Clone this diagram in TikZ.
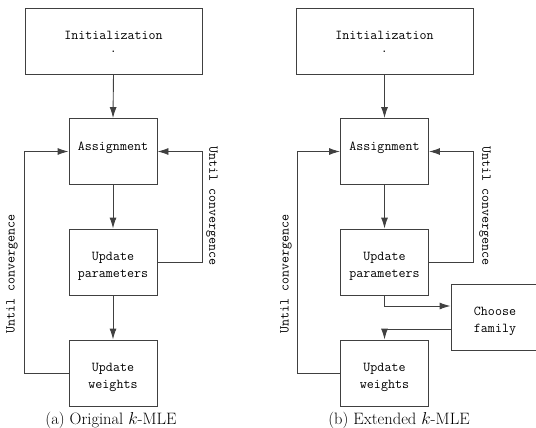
\documentclass[tikz,border=0pt]{standalone}
\usetikzlibrary{arrows.meta}
\newcommand{\boxtext}[2]{\parbox[c][66pt][t]{#1}{\centering\rule{0pt}{31.5pt}#2}}
\begin{document}
\begin{tikzpicture}[x=1pt,y=-1pt,
  box/.style={draw=black!75, line width=0.9pt, inner sep=0pt, font=\fontsize{13.6}{17}\selectfont\ttfamily},
  conn/.style={draw=black!75, line width=0.9pt},
  arr/.style={conn, -{Latex[length=11pt,width=7pt]}},
  lbl/.style={font=\fontsize{13.6}{17}\selectfont\ttfamily, inner sep=0pt},
  captext/.style={font=\fontsize{16.5}{20}\selectfont, inner sep=0pt}]
\useasboundingbox (0,0) rectangle (536,428);
% left diagram
\node[box] (iL) at (113.5,41) {\boxtext{177pt}{Initialization\\[-3.5pt].}};
\node[box] (aL) at (113,151.5) {\boxtext{88pt}{Assignment}};
\node[box] (pL) at (113,262) {\boxtext{88pt}{Update\\parameters}};
\node[box] (wL) at (113,373) {\boxtext{88pt}{Update\\weights}};
\draw[arr] (iL.south) -- (aL.north);
\draw[arr] (aL.south) -- (pL.north);
\draw[arr] (pL.south) -- (wL.north);
\draw[arr] (pL.east) -- ++(45,0) |- (aL.east);
\draw[arr] (wL.west) -- ++(-44,0) |- (aL.west);
\node[lbl, rotate=-90] (rlL) at (212,206) {Until convergence};
\node[lbl, rotate=90] (llL) at (12,274) {Until convergence};
\node[captext] (capL) at (111,420) {(a) Original $k$-MLE};
% right diagram
\node[box] (iR) at (384.5,41) {\boxtext{177pt}{Initialization\\[-3.5pt].}};
\node[box] (aR) at (384.5,151.5) {\boxtext{88pt}{Assignment}};
\node[box] (pR) at (384.5,262) {\boxtext{88pt}{Update\\parameters}};
\node[box] (wR) at (384.5,373) {\boxtext{88pt}{Update\\weights}};
\node[box] (cR) at (495,317) {\boxtext{88pt}{Choose\\family}};
\draw[arr] (iR.south) -- (aR.north);
\draw[arr] (aR.south) -- (pR.north);
\draw[arr] (pR.south) |- ([yshift=11pt]cR.west);
\draw[arr] ([yshift=-12pt]cR.west) -| (wR.north);
\draw[arr] (pR.east) -- ++(44,0) |- (aR.east);
\draw[arr] (wR.west) -- ++(-43,0) |- (aR.west);
\node[lbl, rotate=-90] (rlR) at (485,206) {Until convergence};
\node[lbl, rotate=90] (llR) at (286,274) {Until convergence};
\node[captext] (capR) at (399,420) {(b) Extended $k$-MLE};
\end{tikzpicture}
\end{document}
